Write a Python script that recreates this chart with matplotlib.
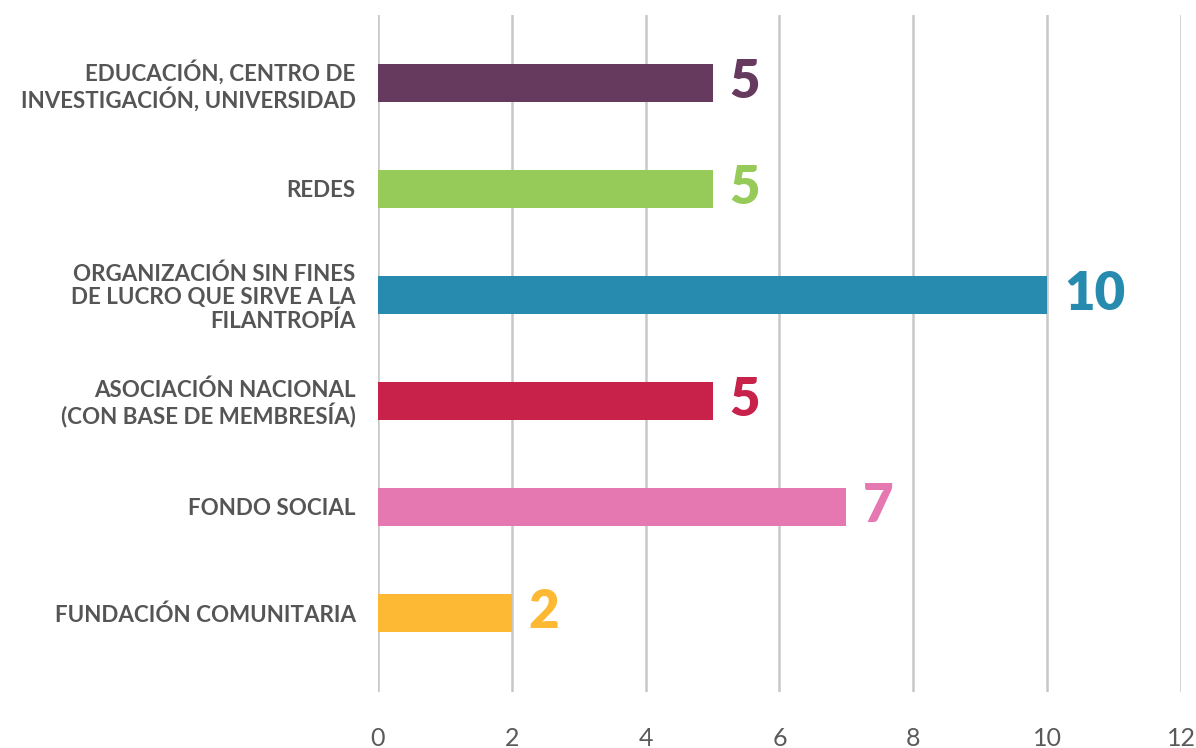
import matplotlib
matplotlib.use("Agg")
import matplotlib.pyplot as plt

# datos (de arriba hacia abajo)
categorias = [
    "EDUCACIÓN, CENTRO DE\nINVESTIGACIÓN, UNIVERSIDAD",
    "REDES",
    "ORGANIZACIÓN SIN FINES\nDE LUCRO QUE SIRVE A LA\nFILANTROPÍA",
    "ASOCIACIÓN NACIONAL\n(CON BASE DE MEMBRESÍA)",
    "FONDO SOCIAL",
    "FUNDACIÓN COMUNITARIA",
]
valores = [5, 5, 10, 5, 7, 2]
colores = ["#663A5E", "#96CB5A", "#278BAF", "#C8214A", "#E678B1", "#FDB933"]
ticks_x = [0, 2, 4, 6, 8, 10, 12]

plt.rcParams['font.family'] = ['Lato', 'DejaVu Sans']

fig = plt.figure(figsize=(11.96, 7.48), dpi=100)
ax = fig.add_axes([0.316, 0.0749, 0.6715, 0.905])

y = list(range(len(categorias)))
ax.barh(y, valores, height=0.36, color=colores, zorder=3)

for i, v in enumerate(valores):
    ax.text(v + 0.25, i, str(v), va='center', ha='left', color=colores[i],
            fontsize=38, fontweight='heavy')

ax.set_xlim(0, 12)
ax.set_ylim(5.745, -0.64)
ax.set_xticks(ticks_x)
ax.set_xticklabels([str(t) for t in ticks_x], fontsize=18, fontweight='normal', color='#5a5a5a')
ax.set_yticks(y)
ax.set_yticklabels(categorias, fontsize=16.1, fontweight='bold', color='#555555',
                   linespacing=1.12)
ax.tick_params(axis='x', length=0, pad=25)
ax.tick_params(axis='y', length=0, pad=16)

ax.grid(axis='x', color='#C8C8C8', linewidth=1.8, zorder=0)
ax.grid(axis='y', visible=False)
for s in ax.spines.values():
    s.set_visible(False)

fig.savefig("out.png", dpi=100)
